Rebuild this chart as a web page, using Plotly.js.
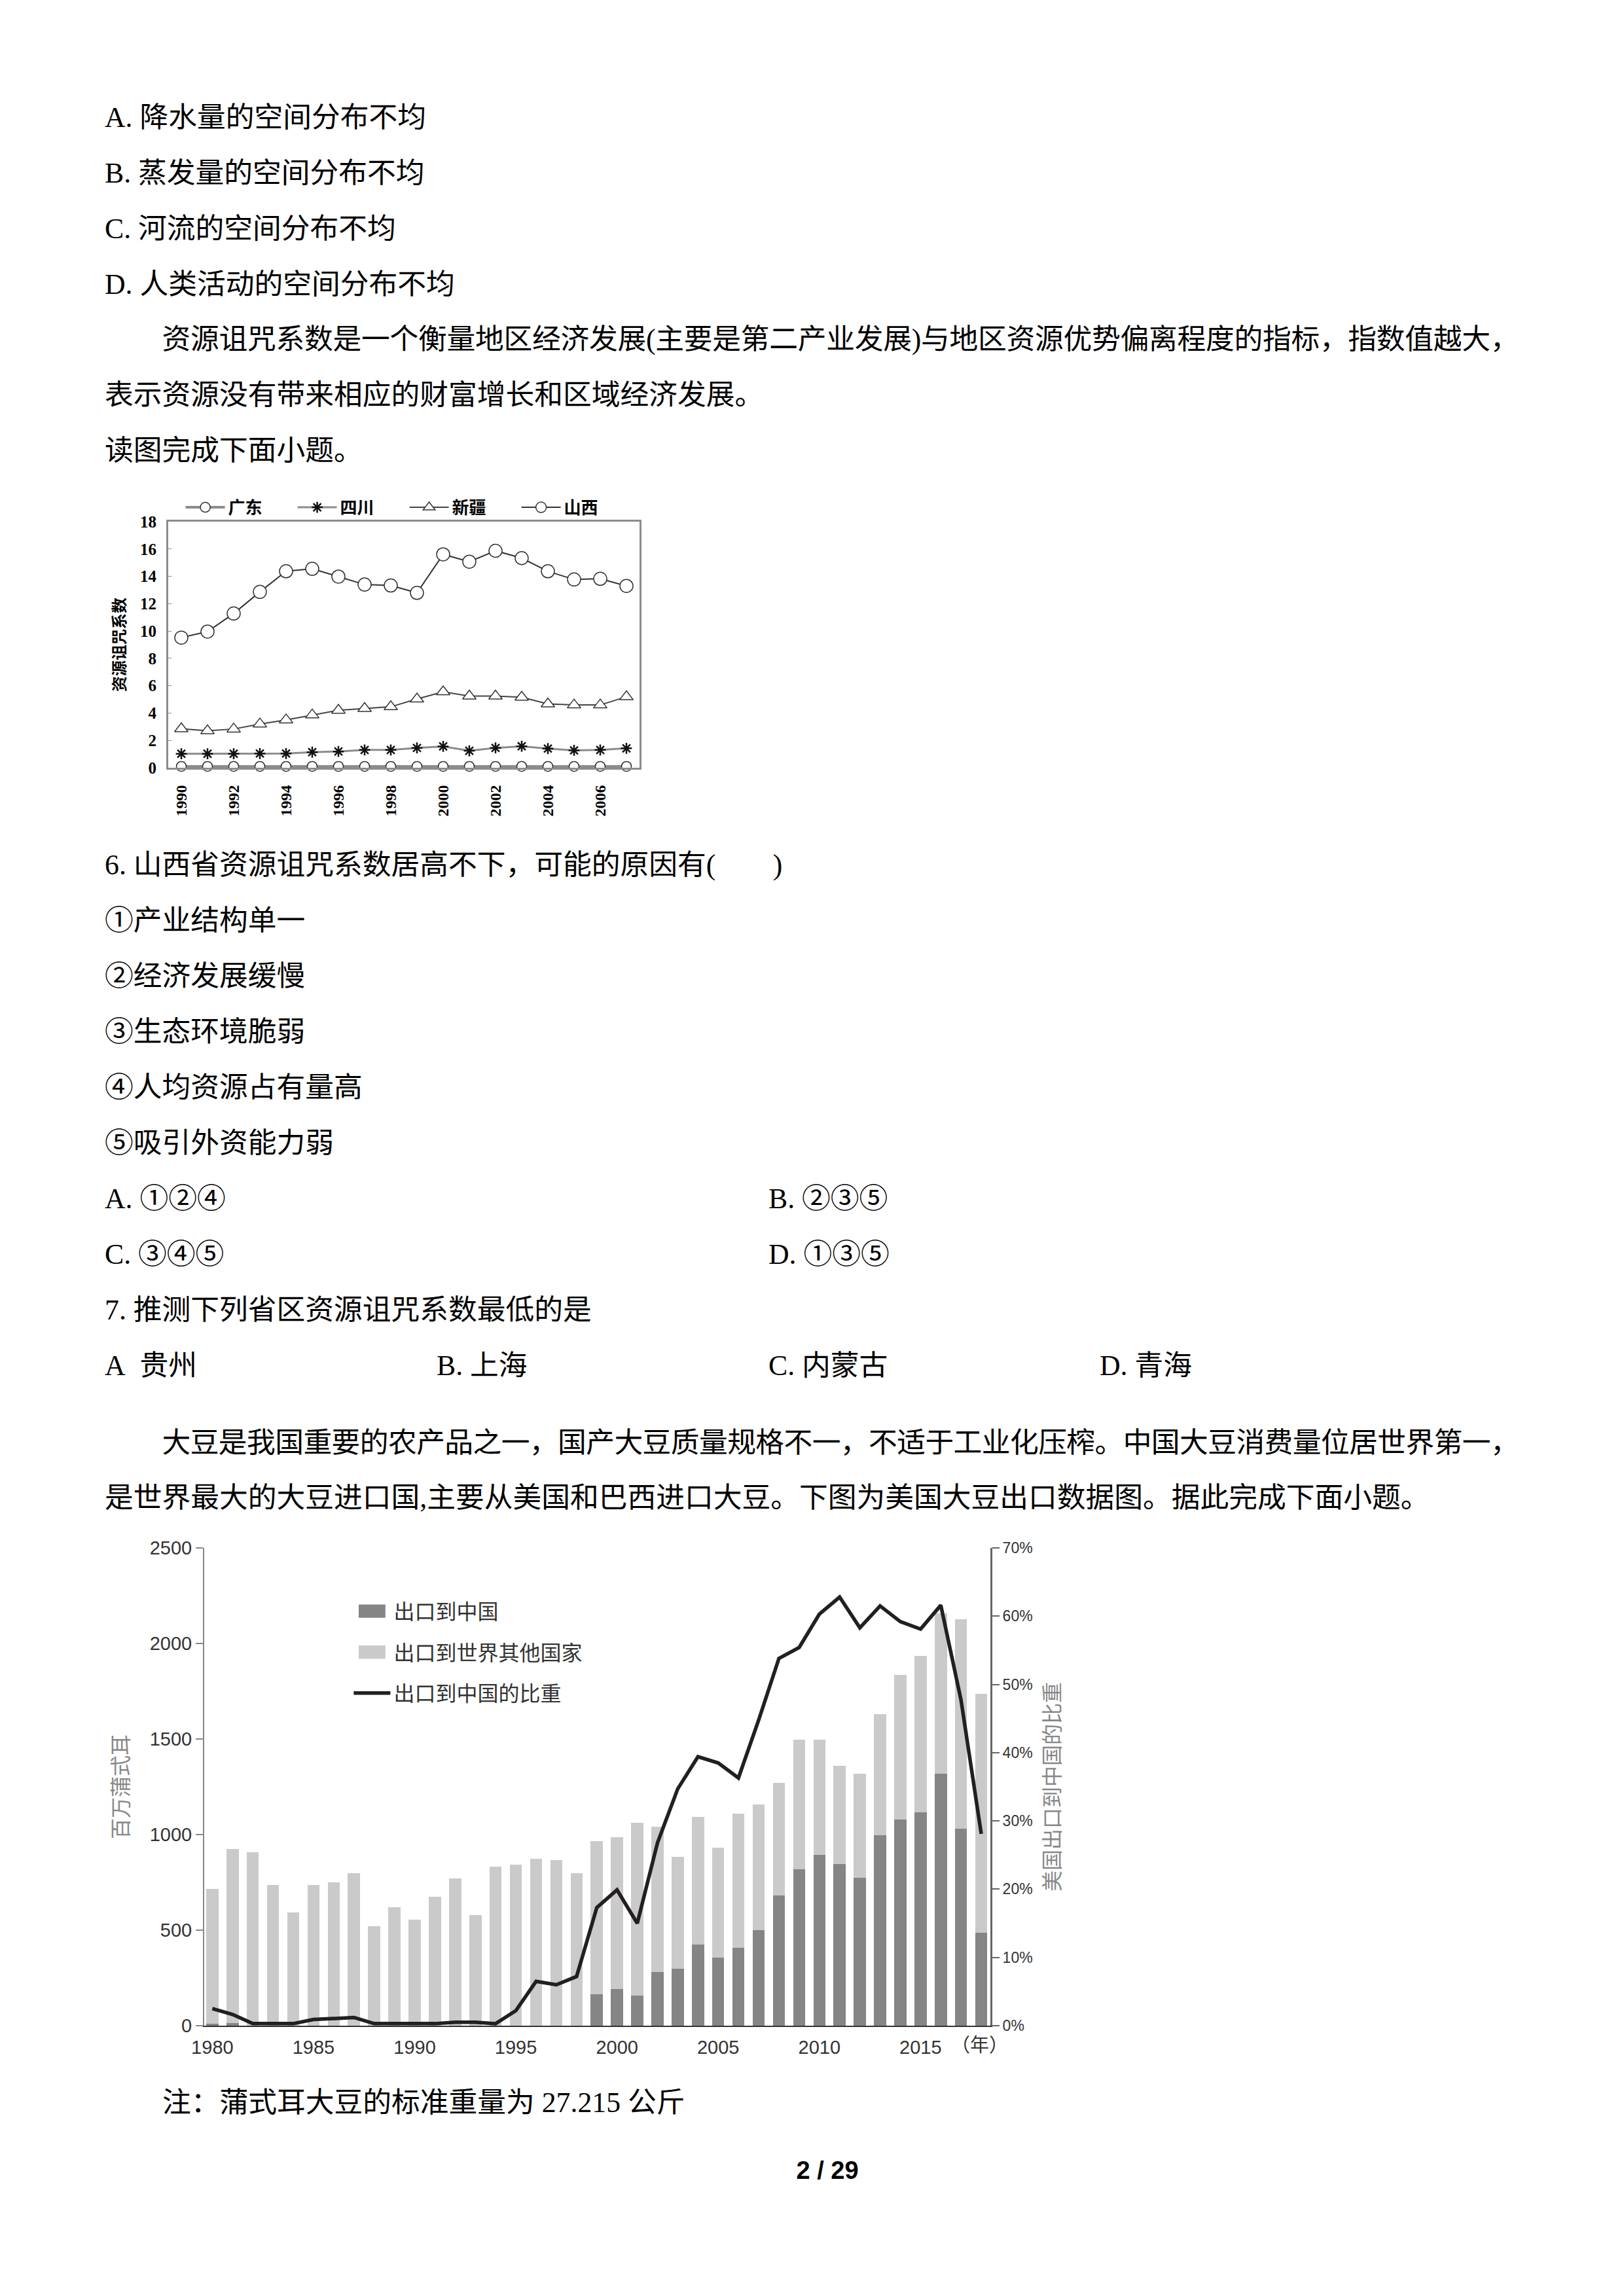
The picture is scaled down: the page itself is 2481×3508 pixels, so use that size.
<!DOCTYPE html>
<html>
<head>
<meta charset="utf-8">
<script src="https://cdn.plot.ly/plotly-3.0.1.min.js"></script>
<style>
  html, body { margin: 0; padding: 0; background: #fff; }
  #page { position: relative; width: 2481px; height: 3508px; overflow: hidden; background: #fff;
          font-family: "Liberation Serif", "Noto Sans CJK SC", serif; color: #000; }
  .ln { position: absolute; left: 160px; height: 60px; line-height: 60px; font-size: 43.75px; white-space: nowrap; }
  .just { width: 2160px; text-align: justify; text-align-last: justify; }
  .ind { padding-left: 87.5px; width: 2072.5px; }
  .chart { position: absolute; }
  #pageno { position: absolute; left: 1114px; width: 300px; top: 3291px; height: 50px; line-height: 50px;
            text-align: center; font-family: "Liberation Sans", sans-serif; font-weight: bold; font-size: 38px; }
</style>
</head>
<body>
<div id="page">
  <div class="ln" style="top:149px">A. 降水量的空间分布不均</div>
  <div class="ln" style="top:234px">B. 蒸发量的空间分布不均</div>
  <div class="ln" style="top:319px">C. 河流的空间分布不均</div>
  <div class="ln" style="top:404px">D. 人类活动的空间分布不均</div>
  <div class="ln just ind" style="top:488px;letter-spacing:-0.6px">资源诅咒系数是一个衡量地区经济发展(主要是第二产业发展)与地区资源优势偏离程度的指标，指数值越大，</div>
  <div class="ln" style="top:573px">表示资源没有带来相应的财富增长和区域经济发展。</div>
  <div class="ln" style="top:658px">读图完成下面小题。</div>

  <div id="chart1" class="chart" style="left:150px;top:740px;width:860px;height:520px"></div>

  <div class="ln" style="top:1291px">6. 山西省资源诅咒系数居高不下，可能的原因有(　　)</div>
  <div class="ln" style="top:1376px">①产业结构单一</div>
  <div class="ln" style="top:1461px">②经济发展缓慢</div>
  <div class="ln" style="top:1546px">③生态环境脆弱</div>
  <div class="ln" style="top:1631px">④人均资源占有量高</div>
  <div class="ln" style="top:1716px">⑤吸引外资能力弱</div>
  <div class="ln" style="top:1801px">A. ①②④</div>
  <div class="ln" style="top:1801px;left:1174px">B. ②③⑤</div>
  <div class="ln" style="top:1886px">C. ③④⑤</div>
  <div class="ln" style="top:1886px;left:1174px">D. ①③⑤</div>
  <div class="ln" style="top:1971px">7. 推测下列省区资源诅咒系数最低的是</div>
  <div class="ln" style="top:2056px">A&nbsp; 贵州</div>
  <div class="ln" style="top:2056px;left:667px">B. 上海</div>
  <div class="ln" style="top:2056px;left:1174px">C. 内蒙古</div>
  <div class="ln" style="top:2056px;left:1680px">D. 青海</div>
  <div class="ln just ind" style="top:2174px;letter-spacing:-0.8px">大豆是我国重要的农产品之一，国产大豆质量规格不一，不适于工业化压榨。中国大豆消费量位居世界第一，</div>
  <div class="ln" style="top:2258px">是世界最大的大豆进口国,主要从美国和巴西进口大豆。下图为美国大豆出口数据图。据此完成下面小题。</div>

  <div id="chart2" class="chart" style="left:150px;top:2340px;width:1520px;height:830px"></div>

  <div class="ln" style="top:3182px;left:248px">注：蒲式耳大豆的标准重量为 27.215 公斤</div>
  <div id="pageno">2 / 29</div>
</div>

<script>
// ---- chart 1: resource curse index, 1990-2007 ----
const years1 = [1990, 1991, 1992, 1993, 1994, 1995, 1996, 1997, 1998, 1999,
                2000, 2001, 2002, 2003, 2004, 2005, 2006, 2007];
const guangdong = [0.1, 0.1, 0.1, 0.1, 0.1, 0.1, 0.1, 0.1, 0.1, 0.1,
                   0.1, 0.1, 0.1, 0.1, 0.1, 0.1, 0.1, 0.1];
const sichuan = [1.02, 1.02, 1.02, 1.04, 1.04, 1.14, 1.19, 1.3, 1.3, 1.45,
                 1.56, 1.24, 1.45, 1.57, 1.4, 1.27, 1.3, 1.42];
const xinjiang = [2.85, 2.7, 2.83, 3.2, 3.5, 3.86, 4.2, 4.33, 4.46, 5.03,
                  5.55, 5.24, 5.24, 5.16, 4.67, 4.59, 4.59, 5.19];
const shanxi = [9.52, 9.96, 11.28, 12.86, 14.37, 14.55, 13.98, 13.4, 13.33, 12.79,
                15.61, 15.07, 15.87, 15.33, 14.37, 13.77, 13.82, 13.3];
const tickYears1 = [1990, 1992, 1994, 1996, 1998, 2000, 2002, 2004, 2006];

// ---- chart 2: US soybean exports, 1980-2018 ----
const years2 = [1980, 1981, 1982, 1983, 1984, 1985, 1986, 1987, 1988, 1989,
                1990, 1991, 1992, 1993, 1994, 1995, 1996, 1997, 1998, 1999,
                2000, 2001, 2002, 2003, 2004, 2005, 2006, 2007, 2008, 2009,
                2010, 2011, 2012, 2013, 2014, 2015, 2016, 2017, 2018];
const toChina = [12, 15, 0, 0, 0, 0, 0, 0, 0, 0,
                 0, 0, 0, 0, 0, 0, 0, 0, 0, 165,
                 193, 156, 281, 298, 425, 355, 407, 501, 680, 820,
                 895, 847, 773, 996, 1078, 1115, 1320, 1032, 486];
const toOthers = [705, 910, 907, 735, 592, 735, 750, 797, 521, 620,
                  555, 674, 769, 579, 832, 841, 873, 866, 797, 801,
                  794, 905, 761, 586, 666, 578, 704, 655, 590, 675,
                  600, 511, 547, 635, 757, 821, 836, 1096, 1252];
const chinaShare = [2.5, 1.65, 0.3, 0.3, 0.3, 0.9, 1.1, 1.2, 0.3, 0.3,
                    0.3, 0.3, 0.5, 0.5, 0.3, 2.2, 6.5, 6.0, 7.2, 17.3,
                    19.9, 15.0, 26.8, 34.7, 39.4, 38.5, 36.3, 44.8, 53.8, 55.4,
                    60.3, 62.8, 58.3, 61.5, 59.2, 58.1, 61.6, 47.7, 28.1];
const tickYears2 = [1980, 1985, 1990, 1995, 2000, 2005, 2010, 2015];

const plotlyConfig = { displayModeBar: false, staticPlot: true };
const cjk = 'Noto Sans CJK SC';
const boldSerif = { family: 'Liberation Serif, ' + cjk, size: 25, color: '#000', weight: 'bold' };

function drawChart1() {
    const frame = '#8c8c8c';
    const traces = [
        { name: '广东', x: years1, y: guangdong, mode: 'lines+markers', cliponaxis: false,
          line: { color: '#8c8c8c', width: 4 },
          marker: { symbol: 'circle', size: 15, color: '#fff', line: { color: '#333', width: 1.5 } } },
        { name: '四川', x: years1, y: sichuan, mode: 'lines+markers', cliponaxis: false,
          line: { color: '#8c8c8c', width: 3 },
          marker: { symbol: 'asterisk-open', size: 14, color: '#111', line: { color: '#111', width: 2.5 } } },
        { name: '新疆', x: years1, y: xinjiang, mode: 'lines+markers', cliponaxis: false,
          line: { color: '#444', width: 2 },
          marker: { symbol: 'triangle-up', size: 18, color: '#fff', line: { color: '#333', width: 1.5 } } },
        { name: '山西', x: years1, y: shanxi, mode: 'lines+markers', cliponaxis: false,
          line: { color: '#333', width: 2 },
          marker: { symbol: 'circle', size: 20, color: '#fff', line: { color: '#333', width: 1.5 } } }
    ];
    const layout = {
        width: 860, height: 520,
        margin: { l: 107, r: 33, t: 54, b: 87 },
        paper_bgcolor: '#fff', plot_bgcolor: '#fff',
        font: boldSerif,
        showlegend: true,
        legend: { orientation: 'h', x: 0.03, xanchor: 'left', y: 1.058, yanchor: 'middle',
                  font: { family: cjk, size: 26, color: '#000', weight: 'bold' },
                  itemwidth: 60, entrywidth: 96, entrywidthmode: 'pixels', bgcolor: 'rgba(0,0,0,0)' },
        xaxis: {
            range: [1989.5, 2007.5], tickvals: tickYears1, tickangle: -90,
            tickfont: { family: 'Liberation Serif', size: 24, color: '#000', weight: 'bold' },
            ticks: '', ticklabelstandoff: 14,
            showline: true, mirror: true, linecolor: frame, linewidth: 3,
            showgrid: false, zeroline: false
        },
        yaxis: {
            range: [0, 18], dtick: 2, tickfont: boldSerif,
            ticks: 'inside', ticklen: 5, tickcolor: frame, ticklabelstandoff: 10,
            showline: true, mirror: true, linecolor: frame, linewidth: 3,
            showgrid: false, zeroline: false,
            title: { text: '资源诅咒系数', standoff: 16,
                     font: { family: cjk, size: 24, color: '#000', weight: 'bold' } }
        }
    };
    Plotly.newPlot('chart1', traces, layout, plotlyConfig);
}

function drawChart2() {
    const tickFont = { family: 'Liberation Sans, sans-serif', size: 29, color: '#333' };
    const traces = [
        { type: 'bar', name: '出口到中国', x: years2, y: toChina, legendgroup: 'a',
          marker: { color: '#858585', line: { width: 0 } } },
        { type: 'bar', name: '出口到世界其他国家', x: years2, y: toOthers, legendgroup: 'b',
          marker: { color: '#cacaca', line: { width: 0 } } },
        { type: 'scatter', mode: 'lines', name: '出口到中国的比重', x: years2, y: chinaShare,
          yaxis: 'y2', legendgroup: 'c', line: { color: '#231f20', width: 5.5 } }
    ];
    const layout = {
        width: 1520, height: 830,
        margin: { l: 162, r: 157, t: 25, b: 75 },
        paper_bgcolor: '#fff', plot_bgcolor: '#fff',
        barmode: 'stack', bargap: 0.4,
        font: { family: cjk, color: '#333' },
        showlegend: true,
        legend: { x: 0.186, xanchor: 'left', y: 0.905, yanchor: 'top', traceorder: 'grouped',
                  tracegroupgap: 18, itemwidth: 56, bgcolor: 'rgba(0,0,0,0)',
                  font: { family: cjk, size: 32, color: '#333' } },
        xaxis: {
            range: [1979.6, 2018.45], tickvals: tickYears2, ticks: '',
            tickfont: tickFont, ticklabelstandoff: 6,
            showline: true, linecolor: '#333', linewidth: 2,
            showgrid: false, zeroline: false
        },
        yaxis: {
            range: [0, 2500], dtick: 500, tickfont: tickFont,
            ticks: 'outside', ticklen: 11, tickwidth: 2, tickcolor: '#888',
            showline: true, linecolor: '#888', linewidth: 2,
            showgrid: false, zeroline: false,
            title: { text: '百万蒲式耳', standoff: 22, font: { family: cjk, size: 32, color: '#888' } }
        },
        yaxis2: {
            overlaying: 'y', side: 'right', range: [0, 70], dtick: 10, ticksuffix: '%',
            tickfont: { family: 'Liberation Sans, sans-serif', size: 23, color: '#333' },
            ticks: 'outside', ticklen: 11, tickwidth: 2, tickcolor: '#666',
            showline: true, linecolor: '#666', linewidth: 3,
            showgrid: false, zeroline: false,
            title: { text: '美国出口到中国的比重', standoff: 20, font: { family: cjk, size: 32, color: '#888' } }
        },
        annotations: [{
            text: '（年）', xref: 'x', yref: 'paper', x: 2017.9, y: 0,
            xanchor: 'center', yanchor: 'top', yshift: -4, showarrow: false,
            font: { family: cjk, size: 29, color: '#333' }
        }]
    };
    return Plotly.newPlot('chart2', traces, layout, plotlyConfig).then(function (gd) {
        // the bar swatches in the printed legend are wide blocks, not small squares
        const items = gd.querySelectorAll('.legend .traces');
        items.forEach(function (g, i) {
            if (i > 1) return;
            g.querySelectorAll('.legendpoints path').forEach(function (p) {
                p.setAttribute('transform', (p.getAttribute('transform') || '') + ' scale(3.4,1.7)');
            });
        });
    });
}

drawChart1();
drawChart2();
</script>
</body>
</html>
